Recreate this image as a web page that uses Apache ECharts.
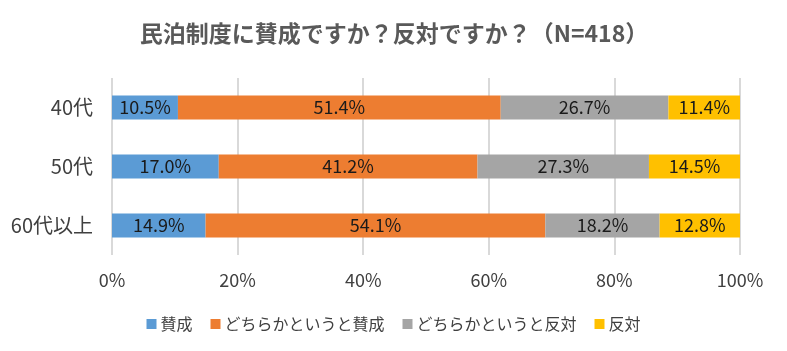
<!DOCTYPE html>
<html><head><meta charset="utf-8">
<script src="https://cdn.jsdelivr.net/npm/echarts@6/dist/echarts.min.js"></script>
<style>html,body{margin:0;padding:0;background:#fff;}#c{width:787px;height:351px;}</style>
</head><body><div id="c"></div>
<script>
const categories = ['40代', '50代', '60代以上'];
const seriesNames = ['賛成', 'どちらかというと賛成', 'どちらかというと反対', '反対'];
const favor = [10.5, 17.0, 14.9];
const ratherFavor = [51.4, 41.2, 54.1];
const ratherOppose = [26.7, 27.3, 18.2];
const oppose = [11.4, 14.5, 12.8];
const xTicks = [0, 20, 40, 60, 80, 100];
const colors = ['#5B9BD5', '#ED7D31', '#A5A5A5', '#FFC000'];
const values = [favor, ratherFavor, ratherOppose, oppose];
const FONT = '"Noto Sans CJK JP", "Noto Sans", sans-serif';

const chart = echarts.init(document.getElementById('c'));
chart.setOption({
  animation: false,
  textStyle: { fontFamily: FONT },
  title: {
    text: '民泊制度に賛成ですか？反対ですか？（N=418）',
    left: 389, top: 17, textAlign: 'center',
    textStyle: { fontFamily: FONT, fontSize: 23, fontWeight: 'bold', color: '#595959' }
  },
  legend: {
    left: 'center', top: 311, itemWidth: 10, itemHeight: 10, itemGap: 18,
    icon: 'rect',
    textStyle: { fontFamily: FONT, fontSize: 16, color: '#404040', padding: [0, 0, 0, -1] },
    data: seriesNames
  },
  grid: { left: 112, right: 47, top: 78, bottom: 96 },
  xAxis: {
    type: 'value', min: 0, max: 100, interval: 20,
    axisLabel: { fontFamily: FONT, fontSize: 18, color: '#404040', margin: 16, formatter: v => v + '%' },
    axisLine: { show: false }, axisTick: { show: false },
    splitLine: { lineStyle: { color: '#D9D9D9', width: 2 } }
  },
  yAxis: {
    type: 'category', data: categories, inverse: true,
    axisLabel: { fontFamily: FONT, fontSize: 20, color: '#404040', margin: 19 },
    axisLine: { show: false }, axisTick: { show: false }
  },
  series: values.map((arr, i) => ({
    name: seriesNames[i], type: 'bar', stack: 'total', barWidth: 24,
    itemStyle: { color: colors[i] },
    label: {
      show: true, position: 'inside', fontFamily: FONT, fontSize: 18, color: '#1a1a1a',
      formatter: p => p.value.toFixed(1) + '%'
    },
    data: arr
  }))
});
</script></body></html>
